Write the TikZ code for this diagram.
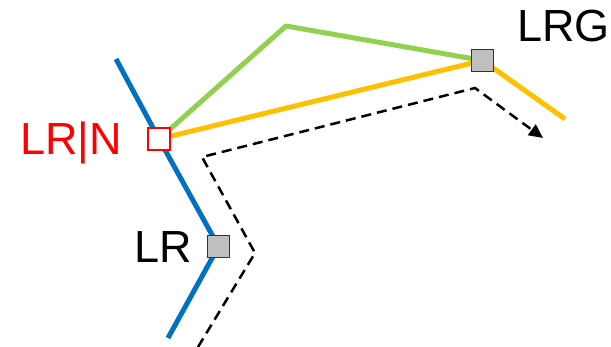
\documentclass[tikz,border=0pt]{standalone}
\usepackage{fontspec}
\setmainfont{Liberation Sans}
\usetikzlibrary{arrows.meta}
\definecolor{cblue}{HTML}{0070C0}
\definecolor{cgreen}{HTML}{92D050}
\definecolor{cyellow}{HTML}{FFC000}
\definecolor{cred}{HTML}{FF0000}
\definecolor{cgrey}{HTML}{BFBFBF}
\begin{document}
\begin{tikzpicture}[x=1pt,y=-1pt,
  routeline/.style={line width=5pt},
  routerbox/.style={draw=black!80,line width=1.3pt,fill=cgrey,minimum size=22pt,inner sep=0pt},
  newbox/.style={draw=cred,line width=1.3pt,fill=white,minimum size=22pt,inner sep=0pt},
  lbl/.style={inner sep=0pt,font=\fontsize{45}{50}\selectfont},
  dashpath/.style={line width=2.5pt,dash pattern=on 10pt off 6pt}]
\useasboundingbox (0,0) rectangle (611,347);
% coordinates
\coordinate (btop) at (116,59);
\coordinate (bbot) at (168,338);
\coordinate (gpeak) at (286,26);
\coordinate (yend) at (565,119);
\coordinate (d1) at (198,347);
\coordinate (d2) at (255,253);
\coordinate (d3) at (202,157);
\coordinate (d4) at (475,88);
\coordinate (d5) at (543,138);
% node centers
\coordinate (cn) at (159,139);
\coordinate (cg) at (482.5,60.5);
\coordinate (cl) at (218.5,246.5);
% lines
\draw[routeline,cblue] (btop) -- (cn) -- (cl) -- (bbot);
\draw[routeline,cgreen,line join=round] (cn) -- (gpeak) -- (cg);
\draw[routeline,cyellow] (cn) -- (cg) -- (yend);
\draw[dashpath,-{Triangle[length=14pt,width=13pt]}] (d1) -- (d2) -- (d3) -- (d4) -- (d5);
% boxes
\node[newbox] (lrn) at (cn) {};
\node[routerbox] (lrg) at (cg) {};
\node[routerbox] (lr) at (cl) {};
% labels
\node[lbl,text=cred,anchor=base east] (tlrn) at (122,155) {LR|N};
\node[lbl,anchor=base west] (tlrg) at (517,42) {LRG};
\node[lbl,anchor=base east] (tlr) at (192,263) {LR};
\end{tikzpicture}
\end{document}
